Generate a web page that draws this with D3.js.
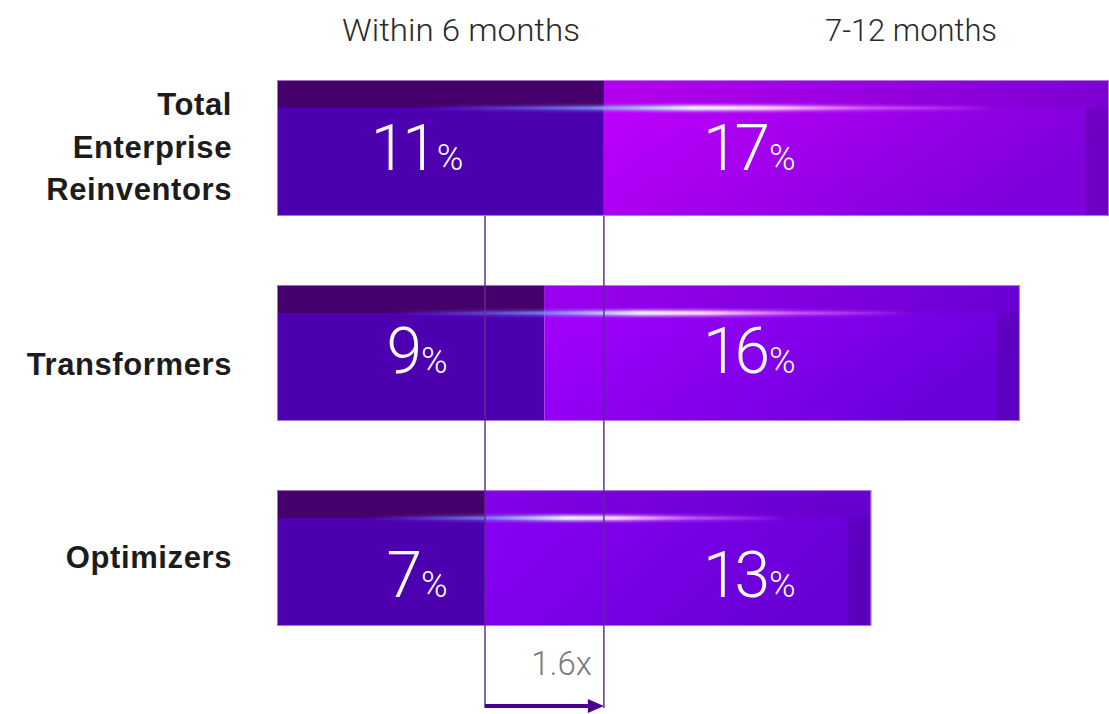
<!DOCTYPE html>
<html>
<head>
<meta charset="utf-8">
<script src="https://cdn.jsdelivr.net/npm/d3@7"></script>
<style>
  html, body { margin: 0; padding: 0; background: #ffffff; }
  svg { display: block; }
</style>
</head>
<body>
<svg id="chart" width="1109" height="714"></svg>
<script>
// ---- Data ----
const categories = ["Total Enterprise Reinventors", "Transformers", "Optimizers"];
const categoryLines = [["Total", "Enterprise", "Reinventors"], ["Transformers"], ["Optimizers"]];
const seriesNames = ["Within 6 months", "7-12 months"];
const within6Months = [11, 9, 7];
const months7to12 = [17, 16, 13];
const multiplierLabel = "1.6x";

// ---- Layout ----
const svg = d3.select("#chart");
const defs = svg.append("defs");

const x = d3.scaleLinear().domain([0, 28]).range([277, 1109]);
const y = d3.scaleBand().domain(categories).range([80, 626]).paddingInner(0.337).paddingOuter(0);
const bw = y.bandwidth();
const stripH = 28;

const seg2Start = ["#c400ff", "#a800ff", "#8c00f6"];
const seg2End   = ["#7e00dc", "#6a00dc", "#6800d6"];

const rows = categories.map((c, i) => ({ cat: c, i, a: within6Months[i], b: months7to12[i] }));

rows.forEach(r => {
  const g = defs.append("linearGradient").attr("id", "seg2g" + r.i)
    .attr("x1", "0%").attr("y1", "0%").attr("x2", "100%").attr("y2", "40%");
  g.append("stop").attr("offset", "0%").attr("stop-color", seg2Start[r.i]);
  g.append("stop").attr("offset", "100%").attr("stop-color", seg2End[r.i]);

  const gl = defs.append("linearGradient").attr("id", "glow" + r.i)
    .attr("x1", "0%").attr("x2", "100%").attr("y1", "0%").attr("y2", "0%");
  [[0, "#6a40ff", 0], [0.3, "#7f9cff", 0.55], [0.48, "#e8f0ff", 0.95],
   [0.6, "#ffd8ff", 0.85], [0.78, "#e070ff", 0.45], [1, "#e070ff", 0]].forEach(s => {
    gl.append("stop").attr("offset", s[0]).attr("stop-color", s[1]).attr("stop-opacity", s[2]);
  });
});
const blur = defs.append("filter").attr("id", "blur").attr("x", "-10%").attr("y", "-300%").attr("width", "120%").attr("height", "700%");
blur.append("feGaussianBlur").attr("stdDeviation", "1.6 1.6");

const g = svg.append("g");
const bars = g.selectAll("g.row").data(rows).join("g").attr("class", "row");

// segment 1
bars.append("rect")
  .attr("x", d => x(0)).attr("y", d => y(d.cat))
  .attr("width", d => x(d.a) - x(0)).attr("height", bw)
  .attr("fill", "#4c00b0");
bars.append("rect")
  .attr("x", d => x(0)).attr("y", d => y(d.cat))
  .attr("width", d => x(d.a) - x(0)).attr("height", stripH)
  .attr("fill", "#46006c");

// segment 2
bars.append("rect")
  .attr("x", d => x(d.a)).attr("y", d => y(d.cat))
  .attr("width", d => x(d.a + d.b) - x(d.a)).attr("height", bw)
  .attr("fill", d => `url(#seg2g${d.i})`);
bars.append("rect")
  .attr("x", d => x(d.a)).attr("y", d => y(d.cat))
  .attr("width", d => x(d.a + d.b) - x(d.a)).attr("height", stripH)
  .attr("fill", "#200040").attr("opacity", 0.08);
bars.append("rect")
  .attr("x", d => x(d.a + d.b) - 23).attr("y", d => y(d.cat) + stripH)
  .attr("width", 23).attr("height", bw - stripH)
  .attr("fill", "#200040").attr("opacity", 0.17);

// outline
bars.append("rect")
  .attr("x", d => x(0) + 0.5).attr("y", d => y(d.cat) + 0.5)
  .attr("width", d => x(d.a + d.b) - x(0) - 1).attr("height", bw - 1)
  .attr("fill", "none").attr("stroke", "#c9a6ea").attr("stroke-width", 1).attr("opacity", 0.7);

// glow line
const glowX0 = d => x(0) + (x(d.a) - x(0)) * 0.42;
const glowX1 = d => x(d.a + d.b) - (x(d.a + d.b) - x(d.a)) * 0.22;
bars.append("rect")
  .attr("x", glowX0).attr("y", d => y(d.cat) + stripH - 3)
  .attr("width", d => glowX1(d) - glowX0(d)).attr("height", 6)
  .attr("fill", d => `url(#glow${d.i})`).attr("filter", "url(#blur)").attr("opacity", 0.9);
bars.append("rect")
  .attr("x", glowX0).attr("y", d => y(d.cat) + stripH - 1.5)
  .attr("width", d => glowX1(d) - glowX0(d)).attr("height", 3)
  .attr("fill", d => `url(#glow${d.i})`);

// value labels
const labelDy = [90, 88, 107];
function valueLabel(sel, xpos, anchor, key) {
  const t = sel.append("text")
    .attr("x", xpos).attr("y", d => y(d.cat) + labelDy[d.i])
    .attr("text-anchor", anchor)
    .attr("fill", "#ffffff")
    .attr("font-family", "Roboto, 'Open Sans', sans-serif")
    .attr("font-weight", 300);
  t.append("tspan").attr("font-size", 64).attr("letter-spacing", -4).text(d => d[key]);
  t.append("tspan").attr("font-size", 36).attr("dx", 3).text("%");
}
valueLabel(bars, 417, "middle", "a");
valueLabel(bars, 703, "start", "b");

// category labels
const catLabelDy = [0, 12, 0];
bars.each(function(d) {
  const lines = categoryLines[d.i];
  const lh = 42.5;
  const cy = y(d.cat) + bw / 2 + catLabelDy[d.i];
  const first = cy - (lines.length - 1) * lh / 2 + 10;
  const t = d3.select(this).append("text")
    .attr("text-anchor", "end")
    .attr("font-family", "'Liberation Sans', Arial, sans-serif")
    .attr("font-weight", 700).attr("font-size", 31)
    .attr("letter-spacing", 0.6)
    .attr("fill", "#1c1c1c");
  lines.forEach((ln, k) => {
    t.append("tspan").attr("x", 232).attr("y", first + k * lh).text(ln);
  });
});

// headers
const headerX = [461, 911];
const headerW = [238, 172];
svg.selectAll("text.header").data(seriesNames).join("text").attr("class", "header")
  .attr("x", (d, i) => headerX[i]).attr("y", 41)
  .attr("text-anchor", "middle")
  .attr("font-family", "Roboto, sans-serif").attr("font-weight", 300).attr("font-size", 32)
  .attr("fill", "#2a2a2a")
  .attr("textLength", (d, i) => headerW[i]).attr("lengthAdjust", "spacingAndGlyphs")
  .text(d => d);

// comparison lines
const topY = y(categories[0]) + bw;
const arrowY = 706;
const lineXs = [x(within6Months[2]), x(within6Months[0])];
svg.selectAll("line.cmp").data(lineXs).join("line").attr("class", "cmp")
  .attr("x1", d => d).attr("x2", d => d)
  .attr("y1", topY).attr("y2", arrowY + 2)
  .attr("stroke", "#5e2a98").attr("stroke-width", 1.6).attr("opacity", 0.9);

// arrow
svg.append("line")
  .attr("x1", lineXs[0]).attr("x2", lineXs[1] - 12)
  .attr("y1", arrowY).attr("y2", arrowY)
  .attr("stroke", "#4a0090").attr("stroke-width", 4);
svg.append("path")
  .attr("d", `M${lineXs[1] - 16},${arrowY - 7} L${lineXs[1]},${arrowY} L${lineXs[1] - 16},${arrowY + 7} Z`)
  .attr("fill", "#4a0090");

svg.append("text")
  .attr("x", lineXs[1] - 12).attr("y", 675)
  .attr("text-anchor", "end")
  .attr("font-family", "Roboto, sans-serif").attr("font-weight", 300).attr("font-size", 33)
  .attr("fill", "#7a7a7a")
  .text(multiplierLabel);
</script>
</body>
</html>
